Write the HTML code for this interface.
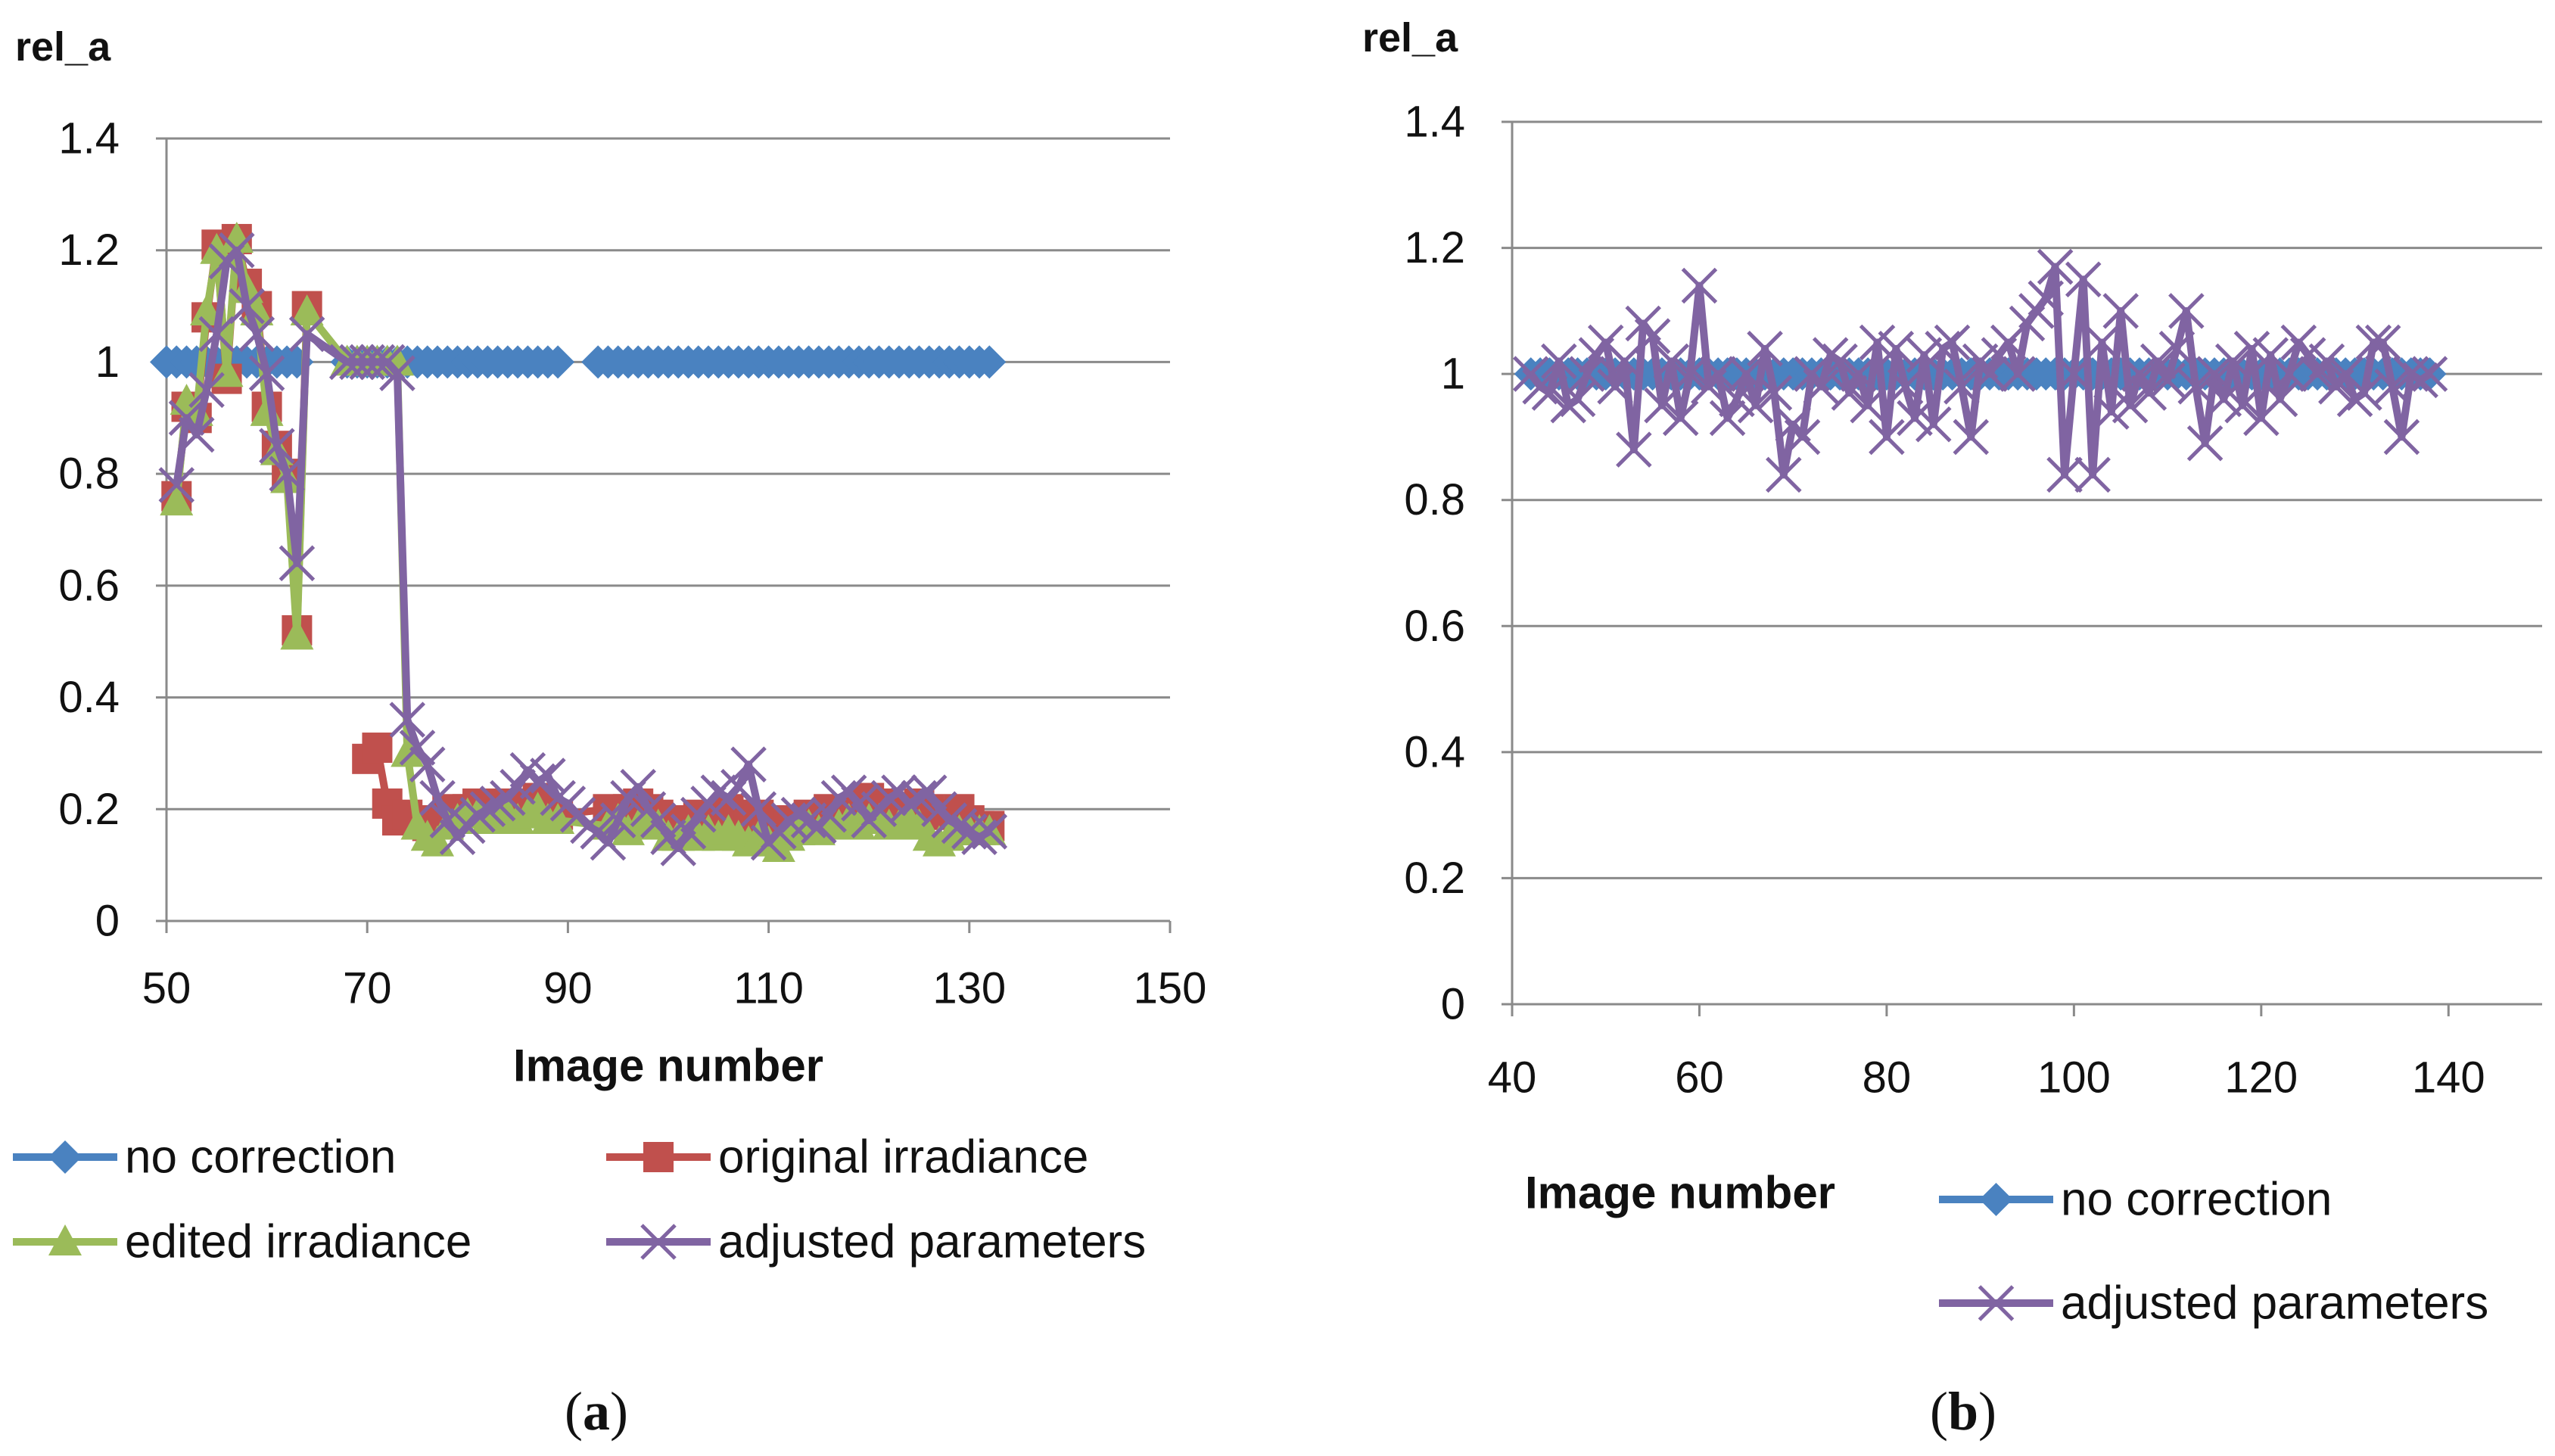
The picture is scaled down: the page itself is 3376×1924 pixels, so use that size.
<!DOCTYPE html>
<html><head><meta charset="utf-8"><style>
html,body{margin:0;padding:0;background:#fff;}
svg{display:block;font-family:"Liberation Sans",sans-serif;}
</style></head><body>
<svg id="svg" width="3376" height="1924" viewBox="0 0 3376 1924" xmlns="http://www.w3.org/2000/svg"></svg>
<script>
// ---------- Data: chart (a) ----------
const aNoCorrX = [50,51,52,53,54,55,56,57,58,59,60,61,62,63,null,68,69,70,71,72,73,74,75,76,77,78,79,80,81,82,83,84,85,86,87,88,89,null,93,94,95,96,97,98,99,100,101,102,103,104,105,106,107,108,109,110,111,112,113,114,115,116,117,118,119,120,121,122,123,124,125,126,127,128,129,130,131,132];
const aNoCorrY = 1;
const aOrigX = [51,52,53,54,55,56,57,58,59,60,61,62,63,64,null,70,71,72,73,74,75,76,77,78,79,80,81,82,83,84,85,86,87,88,89,94,95,96,97,98,99,100,101,102,103,104,105,106,107,108,109,110,111,112,113,114,115,116,117,118,119,120,121,122,123,124,125,126,127,128,129,130,131,132];
const aOrigY = [0.76,0.92,0.90,1.08,1.21,0.97,1.22,1.14,1.10,0.92,0.85,0.80,0.52,1.10,null,0.29,0.31,0.21,0.18,0.19,0.18,0.17,0.18,0.20,0.19,0.20,0.21,0.20,0.19,0.21,0.20,0.21,0.22,0.20,0.19,0.20,0.19,0.20,0.21,0.20,0.19,0.18,0.17,0.18,0.19,0.18,0.19,0.20,0.19,0.18,0.19,0.18,0.17,0.18,0.17,0.19,0.18,0.20,0.19,0.20,0.21,0.22,0.21,0.20,0.19,0.20,0.21,0.20,0.19,0.19,0.20,0.18,0.17,0.17];
const aEditX = [51,52,53,54,55,56,57,58,59,60,61,62,63,64,68,69,70,71,72,73,74,75,76,77,78,79,80,81,82,83,84,85,86,87,88,89,94,95,96,97,98,99,100,101,102,103,104,105,106,107,108,109,110,111,112,113,114,115,116,117,118,119,120,121,122,123,124,125,126,127,128,129,130,131,132];
const aEditY = [0.75,0.93,0.91,1.09,1.20,0.98,1.22,1.13,1.09,0.91,0.84,0.79,0.51,1.09,1.0,1.0,1.0,1.0,1.0,1.0,0.30,0.17,0.15,0.14,0.17,0.18,0.19,0.19,0.18,0.18,0.19,0.18,0.19,0.20,0.18,0.18,0.17,0.18,0.16,0.17,0.18,0.17,0.15,0.15,0.16,0.15,0.16,0.15,0.16,0.15,0.14,0.15,0.14,0.13,0.15,0.16,0.17,0.16,0.17,0.17,0.18,0.17,0.18,0.18,0.17,0.17,0.18,0.17,0.15,0.14,0.15,0.16,0.16,0.16,0.16];
const aAdjX = [51,52,53,54,55,56,57,58,59,60,61,62,63,64,68,69,70,71,72,73,74,75,76,77,78,79,80,81,82,83,84,85,86,87,88,89,90,91,92,93,94,95,96,97,98,99,100,101,102,103,104,105,106,107,108,109,110,111,112,113,114,115,116,117,118,119,120,121,122,123,124,125,126,127,128,129,130,131,132];
const aAdjY = [0.78,0.90,0.87,0.95,1.05,1.18,1.20,1.10,1.05,0.98,0.85,0.80,0.64,1.05,1.0,1.0,1.0,1.0,1.0,0.98,0.36,0.31,0.28,0.22,0.18,0.15,0.17,0.19,0.20,0.21,0.22,0.24,0.27,0.25,0.26,0.22,0.21,0.19,0.17,0.16,0.14,0.18,0.22,0.24,0.20,0.18,0.15,0.13,0.16,0.19,0.21,0.23,0.22,0.24,0.28,0.20,0.14,0.16,0.18,0.19,0.18,0.17,0.19,0.22,0.23,0.21,0.18,0.20,0.22,0.23,0.21,0.22,0.23,0.20,0.18,0.17,0.16,0.15,0.16];
const aXTicks = [50,70,90,110,130,150];
const aYTicks = [0,0.2,0.4,0.6,0.8,1,1.2,1.4];

// ---------- Data: chart (b) ----------
const bStart = 42;
const bNoCorrY = 1;
const bAdjY = [1.0,0.98,0.97,1.02,0.95,0.96,1.0,1.03,1.05,0.98,1.02,0.88,1.08,1.06,0.95,1.02,0.93,1.0,1.14,0.98,1.0,0.93,0.96,1.0,0.95,1.04,0.97,0.84,0.92,0.90,1.0,0.98,1.03,1.02,0.97,1.0,0.95,1.05,0.90,1.04,0.98,0.93,1.03,0.92,1.04,1.05,0.98,0.90,1.02,1.0,1.03,1.05,1.0,1.08,1.10,1.12,1.17,0.84,1.0,1.15,0.84,1.05,0.94,1.1,0.95,1.0,0.97,1.02,0.99,1.04,1.1,0.98,0.89,1.0,0.96,1.02,0.95,1.04,0.93,1.03,0.96,1.0,1.05,1.03,1.0,1.02,0.98,1.0,0.96,0.97,1.05,1.05,0.98,0.90,1.0,0.99,1.0];
const bXTicks = [40,60,80,100,120,140];
const bYTicks = [0,0.2,0.4,0.6,0.8,1,1.2,1.4];

const NS = "http://www.w3.org/2000/svg";
const svg = document.getElementById('svg');
const C = {blue:'#4a82c0', red:'#c0504d', green:'#9bbb59', purple:'#8064a2', grid:'#8a8a8a'};
const FS = 58;
function mk(tag, attrs, parent){ const e=document.createElementNS(NS,tag); for(const k in attrs) e.setAttribute(k,attrs[k]); (parent||svg).appendChild(e); return e; }
function txt(s,x,y,size,opts,parent){ const t=mk('text',Object.assign({x:x,y:y,'font-size':size,fill:'#111','text-anchor':'middle','dominant-baseline':'central'},opts||{}),parent); t.textContent=s; return t; }

function marker(g,type,x,y,color){
  let m;
  if(type==='diamond'){ m=mk('polygon',{points:`${x},${y-22} ${x+22},${y} ${x},${y+22} ${x-22},${y}`,fill:color},g); }
  else if(type==='square'){ m=mk('rect',{x:x-20,y:y-20,width:40,height:40,fill:color},g); }
  else if(type==='triangle'){ m=mk('polygon',{points:`${x},${y-23} ${x+22},${y+18} ${x-22},${y+18}`,fill:color},g); }
  else { m=mk('path',{d:`M${x-22},${y-22}L${x+22},${y+22}M${x+22},${y-22}L${x-22},${y+22}`,stroke:color,'stroke-width':5,fill:'none'},g); }
  
  
}

function series(name, xs, ys, sx, sy, color, type){
  const g=mk('g',{});
  
  
  let d='', pen=false;
  for(let i=0;i<xs.length;i++){
    const yv = Array.isArray(ys)?ys[i]:ys;
    if(xs[i]===null||yv===null){pen=false;continue;}
    d+=(pen?'L':'M')+sx(xs[i])+','+sy(yv); pen=true;
  }
  mk('path',{d:d,stroke:color,'stroke-width':10,fill:'none','stroke-linejoin':'round'},g);
  for(let i=0;i<xs.length;i++){
    const yv = Array.isArray(ys)?ys[i]:ys;
    if(xs[i]===null||yv===null) continue;
    marker(g,type,sx(xs[i]),sy(yv),color);
  }
}

function axes(id, x0,x1,xmin,xmax, y0,y1,ymax, xt, yt, ylabX, xlabY){
  const sx=v=>x0+(v-xmin)/(xmax-xmin)*(x1-x0);
  const sy=v=>y0-(v/ymax)*(y0-y1);
  const g=mk('g',{});  
  yt.forEach(v=>{
    const l=mk('line',{x1:x0-14,x2:x1,y1:sy(v),y2:sy(v),stroke:C.grid,'stroke-width':3},g);
     
    const t=txt(String(v),ylabX,sy(v),FS,{'text-anchor':'end'},g);
     
  });
  mk('line',{x1:x0,x2:x0,y1:y1,y2:y0,stroke:C.grid,'stroke-width':3},g);
  xt.forEach(v=>{
    mk('line',{x1:sx(v),x2:sx(v),y1:y0,y2:y0+16,stroke:C.grid,'stroke-width':3},g);
    const t=txt(String(v),sx(v),xlabY,FS,{},g);
     
  });
  return {sx,sy};
}

// Chart (a)
const A = axes('chart-a',220,1546,50,150,1217,183,1.4,aXTicks,aYTicks,158,1306);
series('series-no-correction-a',aNoCorrX,aNoCorrY,A.sx,A.sy,C.blue,'diamond');
series('series-original-irradiance',aOrigX,aOrigY,A.sx,A.sy,C.red,'square');
series('series-edited-irradiance',aEditX,aEditY,A.sx,A.sy,C.green,'triangle');
series('series-adjusted-parameters-a',aAdjX,aAdjY,A.sx,A.sy,C.purple,'x');

// Chart (b)
const bX=[]; for(let i=0;i<bAdjY.length;i++) bX.push(bStart+i);
const B = axes('chart-b',1998,3359,40,150,1327,161,1.4,bXTicks,bYTicks,1936,1424);
series('series-no-correction-b',bX,bNoCorrY,B.sx,B.sy,C.blue,'diamond');
series('series-adjusted-parameters-b',bX,bAdjY,B.sx,B.sy,C.purple,'x');

// Titles and labels
let t;
t=txt('rel_a',20,62,54,{'text-anchor':'start','font-weight':'bold'});  
t=txt('rel_a',1800,50,54,{'text-anchor':'start','font-weight':'bold'});  
t=txt('Image number',883,1408,60,{'font-weight':'bold'});  
t=txt('Image number',2220,1576,60,{'font-weight':'bold'});  

function legend(name,label,lx1,lx2,y,color,type){
  const g=mk('g',{});  
  mk('line',{x1:lx1,x2:lx2,y1:y,y2:y,stroke:color,'stroke-width':10},g);
  marker(g,type,(lx1+lx2)/2,y,color);
  txt(label,lx2+10,y,62,{'text-anchor':'start'},g);
}
legend('legend-no-correction-a','no correction',17,155,1529,C.blue,'diamond');
legend('legend-original-irradiance','original irradiance',801,939,1529,C.red,'square');
legend('legend-edited-irradiance','edited irradiance',17,155,1641,C.green,'triangle');
legend('legend-adjusted-parameters-a','adjusted parameters',801,939,1641,C.purple,'x');
legend('legend-no-correction-b','no correction',2562,2713,1585,C.blue,'diamond');
legend('legend-adjusted-parameters-b','adjusted parameters',2562,2713,1722,C.purple,'x');

function cap(name,letter,x){
  const tt=mk('text',{x:x,y:1865,'font-size':72,'text-anchor':'middle','dominant-baseline':'central','font-family':'Liberation Serif, serif',fill:'#111'});
   
  tt.innerHTML='(<tspan font-weight="bold">'+letter+'</tspan>)';
}
cap('panel-label-a','a',788);
cap('panel-label-b','b',2594);
</script>
</body></html>
